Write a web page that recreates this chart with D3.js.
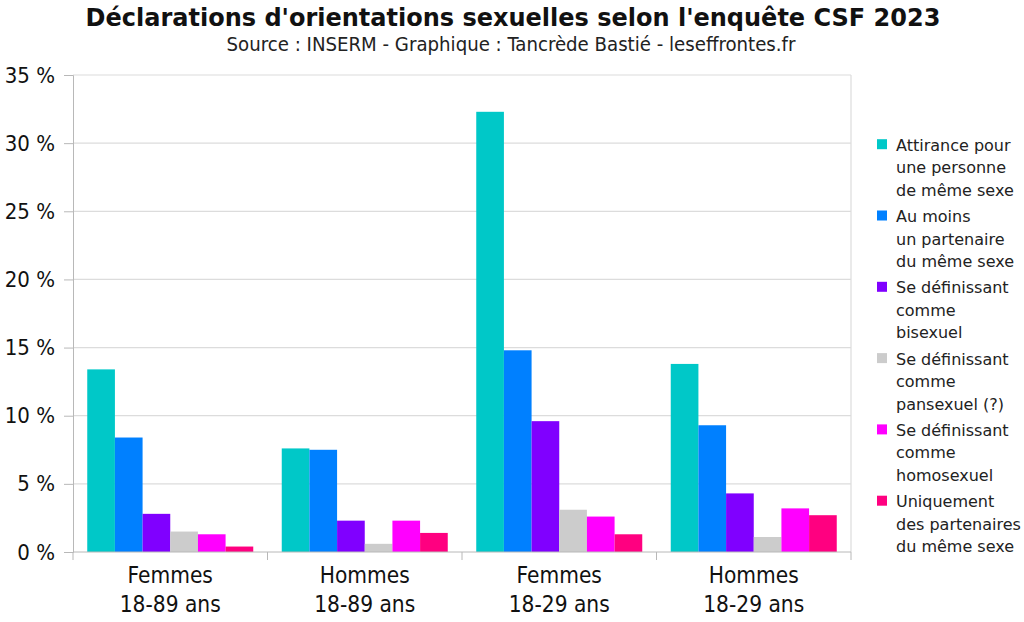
<!DOCTYPE html>
<html>
<head>
<meta charset="utf-8">
<script src="https://cdn.jsdelivr.net/npm/d3@7"></script>
<style>
  html, body { margin: 0; padding: 0; background: #ffffff; }
  svg { display: block; }
</style>
</head>
<body>
<svg id="chart" width="1024" height="622"></svg>
<script>
const categories = [
  ["Femmes", "18-89 ans"],
  ["Hommes", "18-89 ans"],
  ["Femmes", "18-29 ans"],
  ["Hommes", "18-29 ans"]
];
const seriesNames = [
  ["Attirance pour", "une personne", "de même sexe"],
  ["Au moins", "un partenaire", "du même sexe"],
  ["Se définissant", "comme", "bisexuel"],
  ["Se définissant", "comme", "pansexuel (?)"],
  ["Se définissant", "comme", "homosexuel"],
  ["Uniquement", "des partenaires", "du même sexe"]
];
const seriesColors = ["#00c8c8", "#0080ff", "#8000ff", "#cccccc", "#ff00ff", "#ff0080"];
// values (%) per series, one per category
const attirance   = [13.4, 7.6, 32.3, 13.8];
const partenaire  = [8.4, 7.5, 14.8, 9.3];
const bisexuel    = [2.8, 2.3, 9.6, 4.3];
const pansexuel   = [1.5, 0.6, 3.1, 1.1];
const homosexuel  = [1.3, 2.3, 2.6, 3.2];
const uniquement  = [0.4, 1.4, 1.3, 2.7];
const seriesValues = [attirance, partenaire, bisexuel, pansexuel, homosexuel, uniquement];
const yTicks = [0, 5, 10, 15, 20, 25, 30, 35];

const title = "Déclarations d'orientations sexuelles selon l'enquête CSF 2023";
const subtitle = "Source : INSERM - Graphique : Tancrède Bastié - leseffrontes.fr";

const svg = d3.select("#chart");
const plot = { left: 73, right: 851, top: 75, bottom: 552 };

const x0 = d3.scaleBand().domain(d3.range(categories.length)).range([plot.left, plot.right]).padding(0);
const x1 = d3.scaleBand().domain(d3.range(seriesValues.length))
  .range([14.25, x0.bandwidth() - 14.25]).padding(0);
const y = d3.scaleLinear().domain([0, 35]).range([plot.bottom, plot.top]);

// title
svg.append("text").attr("x", 513).attr("y", 26).attr("text-anchor", "middle")
  .attr("font-family", "DejaVu Sans").attr("font-weight", "bold")
  .attr("font-size", 24).attr("fill", "#111").text(title);
svg.append("text").attr("x", 511).attr("y", 51).attr("text-anchor", "middle")
  .attr("font-family", "DejaVu Sans Condensed, DejaVu Sans")
  .attr("font-size", 20.2).attr("fill", "#222").text(subtitle);

// gridlines
svg.append("g").selectAll("line").data(yTicks.filter(d => d > 0)).join("line")
  .attr("x1", plot.left).attr("x2", plot.right)
  .attr("y1", d => y(d)).attr("y2", d => y(d))
  .attr("stroke", "#dcdcdc").attr("stroke-width", 1.2);
// right border
svg.append("line").attr("x1", plot.right).attr("x2", plot.right)
  .attr("y1", plot.top).attr("y2", plot.bottom).attr("stroke", "#dcdcdc").attr("stroke-width", 1.2);

// bars
const groups = svg.append("g").selectAll("g").data(categories).join("g")
  .attr("transform", (d, i) => `translate(${x0(i)},0)`);
groups.selectAll("rect").data((d, i) => seriesValues.map((s, k) => ({ k, v: s[i] }))).join("rect")
  .attr("x", d => x1(d.k)).attr("width", x1.bandwidth())
  .attr("y", d => y(d.v)).attr("height", d => y(0) - y(d.v))
  .attr("fill", d => seriesColors[d.k]);

// y axis
const yAxis = svg.append("g").attr("transform", `translate(${plot.left},0)`)
  .call(d3.axisLeft(y).tickValues(yTicks).tickSize(9).tickPadding(9).tickFormat(d => d + " %"));
yAxis.select(".domain").attr("stroke", "#b8b8b8");
yAxis.selectAll(".tick line").attr("stroke", "#b8b8b8");
yAxis.selectAll(".tick text").attr("font-family", "DejaVu Sans Condensed, DejaVu Sans")
  .attr("font-size", 22).attr("fill", "#111");

// x axis
const xBounds = d3.range(categories.length + 1).map(i => plot.left + i * x0.bandwidth());
svg.append("line").attr("x1", plot.left).attr("x2", plot.right)
  .attr("y1", plot.bottom).attr("y2", plot.bottom).attr("stroke", "#b8b8b8");
svg.append("g").selectAll("line").data(xBounds).join("line")
  .attr("x1", d => d).attr("x2", d => d).attr("y1", plot.bottom).attr("y2", plot.bottom + 8)
  .attr("stroke", "#b8b8b8");
const xl = svg.append("g").selectAll("text").data(categories).join("text")
  .attr("x", (d, i) => x0(i) + x0.bandwidth() / 2).attr("y", 583)
  .attr("text-anchor", "middle").attr("font-family", "DejaVu Sans Condensed, DejaVu Sans")
  .attr("font-size", 22.5).attr("fill", "#111");
xl.selectAll("tspan").data(d => d).join("tspan")
  .attr("x", function () { return this.parentNode.getAttribute("x"); })
  .attr("dy", (d, i) => i === 0 ? 0 : 29).text(d => d);

// legend
const leg = svg.append("g").selectAll("g").data(seriesNames).join("g")
  .attr("transform", (d, i) => `translate(877,${150.7 + i * 71.3})`);
leg.append("rect").attr("x", 0).attr("y", -11.5).attr("width", 10).attr("height", 10)
  .attr("fill", (d, i) => seriesColors[i]);
const lt = leg.append("text").attr("x", 19).attr("y", 0)
  .attr("font-family", "DejaVu Sans").attr("font-size", 16).attr("fill", "#222");
lt.selectAll("tspan").data(d => d).join("tspan").attr("x", 19)
  .attr("dy", (d, i) => i === 0 ? 0 : 22.5).text(d => d);
</script>
</body>
</html>
